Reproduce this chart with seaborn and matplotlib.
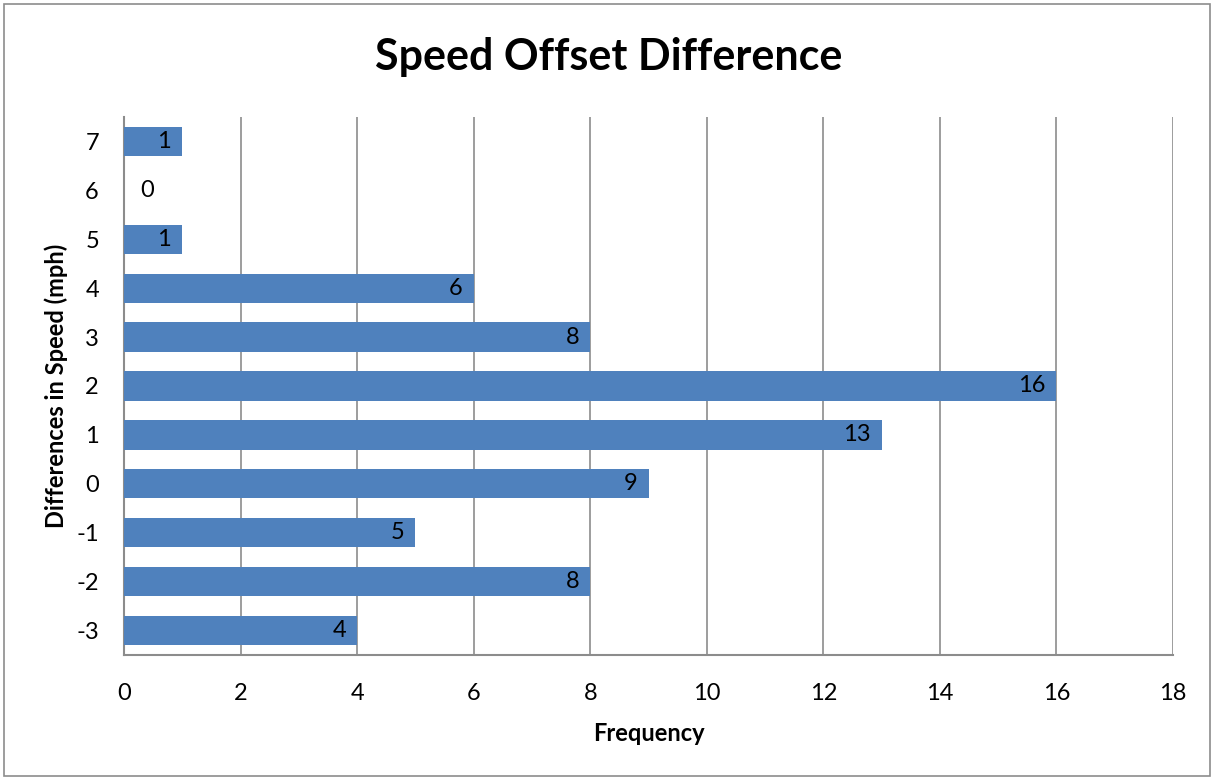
import matplotlib
matplotlib.use("Agg")
import matplotlib.pyplot as plt
import seaborn as sns
import pandas as pd
from matplotlib.patches import Rectangle

categories = ["7", "6", "5", "4", "3", "2", "1", "0", "-1", "-2", "-3"]
frequency = [1, 0, 1, 6, 8, 16, 13, 9, 5, 8, 4]
x_ticks = [0, 2, 4, 6, 8, 10, 12, 14, 16, 18]

sns.set_theme(style="white")
plt.rcParams["font.family"] = ["Lato", "DejaVu Sans"]

df = pd.DataFrame({"diff": categories, "freq": frequency})

fig = plt.figure(figsize=(12.14, 7.78), dpi=100)
ax = fig.add_axes([124/1214, 1-655/778, (1173-124)/1214, (655-117)/778])

sns.barplot(data=df, x="freq", y="diff", order=categories, orient="h",
            color="#4F81BD", saturation=1, width=0.6, ax=ax,
            linewidth=0, zorder=3)

for i, v in enumerate(frequency):
    if v == 0:
        ax.annotate(str(v), xy=(v, i), xytext=(12, 0), textcoords="offset points",
                    ha="left", va="center", fontsize=17, color="black", zorder=4)
    else:
        ax.annotate(str(v), xy=(v, i), xytext=(-8, 0), textcoords="offset points",
                    ha="right", va="center", fontsize=17, color="black", zorder=4)

ax.set_xlim(0, 18)
ax.set_xticks(x_ticks)
ax.set_xticklabels([str(t) for t in x_ticks], fontsize=17, color="black")
ax.tick_params(axis="y", labelsize=17, labelcolor="black", length=0, pad=18)
ax.tick_params(axis="x", length=0, pad=20)
ax.xaxis.grid(True, color="#8C8C8C", linewidth=1.2, zorder=0)
ax.yaxis.grid(False)
ax.set_axisbelow(True)

for s in ["top", "right"]:
    ax.spines[s].set_visible(False)
for s in ["left", "bottom"]:
    ax.spines[s].set_color("#8C8C8C")
    ax.spines[s].set_linewidth(1.5)

ax.set_xlabel("Frequency", fontsize=17, fontweight="bold", color="black", labelpad=13)
ax.set_ylabel("Differences in Speed (mph)", fontsize=17, fontweight="bold", color="black", labelpad=6)

fig.text(609/1214, 1-57/778, "Speed Offset Difference", ha="center", va="center",
         fontsize=31, fontweight="bold", color="black")

fig.patches.append(Rectangle((4/1214, 0.002), 1-8/1214, 1-6/778, transform=fig.transFigure,
                             fill=False, edgecolor="#8C8C8C", linewidth=1.2))

fig.savefig("out.png", dpi=100)
